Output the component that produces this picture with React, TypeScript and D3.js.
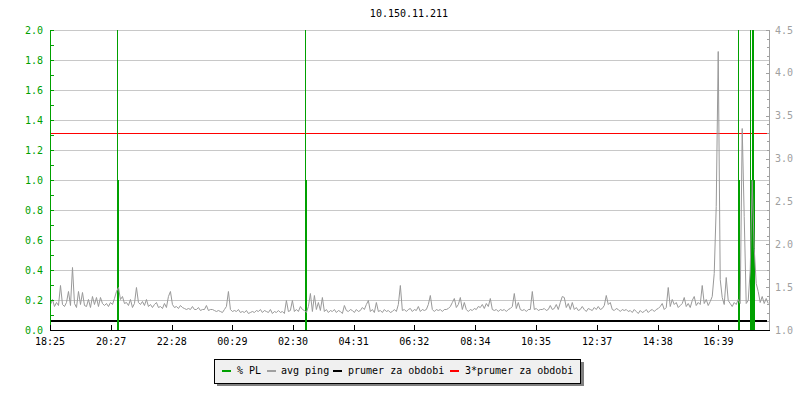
import React from "react";
import * as d3 from "d3";

const TITLE = "10.150.11.211";
const TIME_SPAN = 1435; // minutes shown on the x axis, starting 18:25
const tickMinutes = [0, 122, 243, 364, 485, 606, 727, 849, 970, 1092, 1213, 1334];
const tickLabels = ["18:25", "20:27", "22:28", "00:29", "02:30", "04:31", "06:32", "08:34", "10:35", "12:37", "14:38", "16:39"];
const leftTicks = [0, 0.2, 0.4, 0.6, 0.8, 1.0, 1.2, 1.4, 1.6, 1.8, 2.0];
const rightTicks = [1.0, 1.5, 2.0, 2.5, 3.0, 3.5, 4.0, 4.5];

const PING_STEP = 3.99; // minutes between avg ping samples
const pingValues = [
  1.30, 1.36, 1.28, 1.33, 1.29, 1.52, 1.30, 1.28, 1.33, 1.45, 1.29, 1.74, 1.31, 1.27, 1.46, 1.30, 1.44, 1.29, 1.28, 1.36,
  1.27, 1.40, 1.30, 1.38, 1.28, 1.39, 1.32, 1.29, 1.31, 1.28, 1.33, 1.30, 1.37, 1.45, 1.50, 1.36, 1.40, 1.31, 1.33, 1.29,
  1.36, 1.27, 1.31, 1.50, 1.33, 1.30, 1.34, 1.29, 1.36, 1.28, 1.30, 1.27, 1.30, 1.33, 1.27, 1.28, 1.26, 1.31, 1.27, 1.40,
  1.45, 1.30, 1.27, 1.28, 1.26, 1.29, 1.27, 1.26, 1.25, 1.26, 1.24, 1.28, 1.25, 1.24, 1.27, 1.23, 1.25, 1.24, 1.29, 1.23,
  1.25, 1.24, 1.23, 1.22, 1.23, 1.22, 1.21, 1.25, 1.28, 1.46, 1.25, 1.22, 1.23, 1.22, 1.24, 1.21, 1.22, 1.21, 1.23, 1.20,
  1.21, 1.22, 1.21, 1.23, 1.22, 1.25, 1.21, 1.23, 1.22, 1.21, 1.24, 1.20, 1.22, 1.21, 1.23, 1.21, 1.22, 1.20, 1.35, 1.22,
  1.23, 1.35, 1.22, 1.24, 1.22, 1.28, 1.25, 1.23, 1.21, 1.28, 1.43, 1.22, 1.41, 1.24, 1.33, 1.23, 1.38, 1.22, 1.24, 1.21,
  1.23, 1.22, 1.24, 1.21, 1.23, 1.22, 1.20, 1.29, 1.23, 1.22, 1.25, 1.23, 1.21, 1.24, 1.22, 1.23, 1.27, 1.25, 1.30, 1.35,
  1.22, 1.24, 1.21, 1.33, 1.22, 1.23, 1.21, 1.24, 1.22, 1.23, 1.21, 1.22, 1.24, 1.22, 1.30, 1.52, 1.23, 1.25, 1.22, 1.24,
  1.26, 1.22, 1.24, 1.23, 1.28, 1.22, 1.25, 1.23, 1.24, 1.30, 1.41, 1.24, 1.22, 1.25, 1.23, 1.24, 1.22, 1.25, 1.24, 1.26,
  1.28, 1.33, 1.37, 1.27, 1.30, 1.39, 1.25, 1.33, 1.24, 1.22, 1.25, 1.23, 1.26, 1.24, 1.28, 1.27, 1.30, 1.26, 1.31, 1.28,
  1.37, 1.25, 1.23, 1.25, 1.22, 1.24, 1.23, 1.25, 1.22, 1.24, 1.26, 1.28, 1.43, 1.26, 1.33, 1.24, 1.23, 1.25, 1.22, 1.24,
  1.25, 1.45, 1.24, 1.26, 1.23, 1.25, 1.24, 1.26, 1.23, 1.25, 1.29, 1.24, 1.26, 1.30, 1.25, 1.33, 1.40, 1.38, 1.27, 1.31,
  1.25, 1.33, 1.24, 1.27, 1.23, 1.25, 1.28, 1.24, 1.22, 1.26, 1.24, 1.23, 1.27, 1.25, 1.28, 1.24, 1.26, 1.29, 1.41, 1.30,
  1.33, 1.25, 1.23, 1.26, 1.24, 1.22, 1.25, 1.23, 1.24, 1.22, 1.23, 1.21, 1.24, 1.22, 1.20, 1.23, 1.21, 1.22, 1.24, 1.21,
  1.23, 1.25, 1.22, 1.24, 1.26, 1.28, 1.31, 1.25, 1.27, 1.50, 1.28, 1.36, 1.30, 1.33, 1.27, 1.29, 1.31, 1.38, 1.28, 1.32,
  1.27, 1.35, 1.40, 1.29, 1.33, 1.30, 1.52, 1.31, 1.36, 1.29, 1.34, 1.40, 1.66, 2.45, 4.26, 1.60, 1.38, 1.30, 1.62, 1.35,
  1.31, 1.28, 1.33, 1.30, 1.36, 1.32, 3.36, 2.33, 1.31, 1.35, 1.70, 2.75, 1.96, 1.55, 1.45, 1.33, 1.40, 1.31, 1.37, 1.32,
];

const plTimes = [133.7, 135.7, 508.9, 510.9, 1373.1, 1375.1, 1397.1, 1399.1, 1401.1, 1403.1, 1405.1];
const plValues = [2, 1, 2, 1, 2, 1, 2, 1, 2, 2, 1];
const PL_STEP = 2; // minutes per PL sample

const prumer = 1.1;
const prumer3 = 3.3;

const legendLabels = ["% PL", "avg ping", "prumer za obdobi", "3*prumer za obdobi"];

const GREEN = "#00a000";
const GRAY = "#a0a0a0";
const LINEGRAY = "#999999";
const GRID = "#c8c8c8";
const RED = "#ff0000";
const legendColors = [GREEN, GRAY, "#000000", RED];

const FONT = "'DejaVu Sans Mono', monospace";

export default function App() {
  const W = 800, H = 400;
  const left = 50, right = 769, top = 30, bottom = 330;

  const x = d3.scaleLinear().domain([0, TIME_SPAN]).range([left, right]);
  const yL = d3.scaleLinear().domain([0, 2]).range([bottom, top]);
  const yR = d3.scaleLinear().domain([1, 4.5]).range([bottom, top]);

  // PL as step area
  const plPts: [number, number][] = [[0, 0]];
  plTimes.forEach((t, i) => {
    plPts.push([t, plValues[i]]);
    const next = plTimes[i + 1];
    if (next === undefined || Math.abs(next - (t + PL_STEP)) > 0.05) plPts.push([t + PL_STEP, 0]);
  });
  plPts.push([TIME_SPAN, 0]);
  const plArea = d3
    .area<[number, number]>()
    .x((d) => x(d[0]))
    .y0(yL(0))
    .y1((d) => yL(d[1]))
    .curve(d3.curveStepAfter)(plPts);

  const pingLine = d3
    .line<number>()
    .x((_, i) => Math.min(x(i * PING_STEP), right) + 0.5)
    .y((d) => Math.round(yR(d)) + 0.5)
    .curve(d3.curveLinear)(pingValues);

  const leftMinor = d3.range(0, 2.0001, 0.1);
  const rightMinor = d3.range(1, 4.5001, 0.1);

  const legendSwatchX = [222, 267, 333, 450];
  const legendTextX = [237, 281, 348, 465];

  return (
    <svg width={W} height={H} style={{ position: "fixed", left: 0, top: 0, background: "#fff" }} fontFamily={FONT}>
      <rect x={0} y={0} width={W} height={H} fill="#fff" />
      <text x={409} y={17} textAnchor="middle" fontSize={10} fill="#000">{TITLE}</text>

      {/* grid */}
      {leftTicks.filter((v) => v > 0).map((v) => (
        <line key={"g" + v} x1={left} x2={right} y1={Math.round(yL(v)) + 0.5} y2={Math.round(yL(v)) + 0.5} stroke={GRID} strokeWidth={1} shapeRendering="crispEdges" />
      ))}

      {/* prumer lines */}
      <line x1={left} x2={right - 2} y1={yR(prumer)} y2={yR(prumer)} stroke="#000" strokeWidth={2} shapeRendering="crispEdges" />
      <line x1={left} x2={right - 2} y1={Math.round(yR(prumer3)) + 0.5} y2={Math.round(yR(prumer3)) + 0.5} stroke={RED} strokeWidth={1} shapeRendering="crispEdges" />

      {/* PL */}
      <path d={plArea || ""} fill={GREEN} shapeRendering="crispEdges" />

      {/* avg ping */}
      <path d={pingLine || ""} fill="none" stroke={LINEGRAY} strokeWidth={1} />

      {/* left axis */}
      <line x1={left + 0.5} x2={left + 0.5} y1={top} y2={bottom} stroke={GREEN} shapeRendering="crispEdges" />
      {leftMinor.map((v, i) => (
        <line key={"lm" + i} x1={left} x2={left + 4} y1={Math.round(yL(v)) + 0.5} y2={Math.round(yL(v)) + 0.5} stroke={GREEN} shapeRendering="crispEdges" />
      ))}
      {leftTicks.map((v) => (
        <text key={"lt" + v} x={43} y={yL(v)} dy="0.35em" textAnchor="end" fontSize={10} fill={GREEN}>{v.toFixed(1)}</text>
      ))}

      {/* right axis */}
      <line x1={right + 0.5} x2={right + 0.5} y1={top} y2={bottom} stroke={GRAY} shapeRendering="crispEdges" />
      {rightMinor.map((v, i) => (
        <line key={"rm" + i} x1={right - 2} x2={right} y1={Math.round(yR(v)) + 0.5} y2={Math.round(yR(v)) + 0.5} stroke={GRAY} shapeRendering="crispEdges" />
      ))}
      {rightTicks.map((v) => (
        <g key={"rt" + v}>
          <line x1={right - 3} x2={right} y1={Math.round(yR(v)) + 0.5} y2={Math.round(yR(v)) + 0.5} stroke={GRAY} shapeRendering="crispEdges" />
          <text x={775} y={yR(v)} dy="0.35em" textAnchor="start" fontSize={10} fill={GRAY}>{v.toFixed(1)}</text>
        </g>
      ))}

      {/* bottom axis */}
      <line x1={left} x2={right + 1} y1={bottom + 0.5} y2={bottom + 0.5} stroke="#000" shapeRendering="crispEdges" />
      {tickMinutes.map((m, i) => (
        <g key={"bt" + m}>
          <line x1={Math.round(x(m)) + 0.5} x2={Math.round(x(m)) + 0.5} y1={bottom - 5} y2={bottom} stroke="#000" shapeRendering="crispEdges" />
          <text x={x(m)} y={345} textAnchor="middle" fontSize={10} fill="#000">{tickLabels[i]}</text>
        </g>
      ))}

      {/* legend */}
      <rect x={217} y={362} width={367} height={24} fill="#808080" />
      <rect x={214.5} y={359.5} width={366} height={24} fill="#f0f0f0" stroke="#000" strokeWidth={1} />
      {legendLabels.map((lab, i) => (
        <g key={lab}>
          <rect x={legendSwatchX[i]} y={370} width={9} height={2} fill={legendColors[i]} />
          <text x={legendTextX[i]} y={374} fontSize={10} fill="#000">{lab}</text>
        </g>
      ))}
    </svg>
  );
}
